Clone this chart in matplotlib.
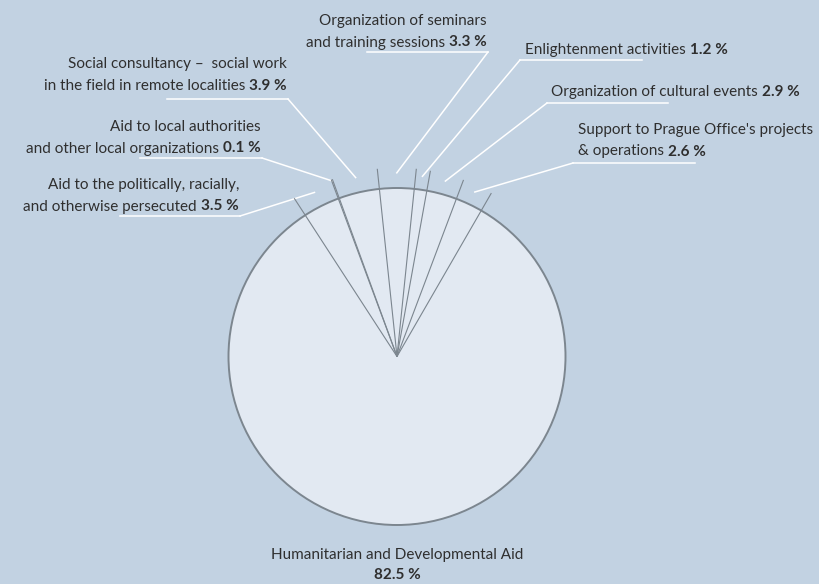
import matplotlib.pyplot as plt
import numpy as np
from matplotlib.patches import Circle

plt.rcParams['font.family'] = ['Lato', 'DejaVu Sans']

# ------------------------------------------------------------
# data (order = clockwise from upper left)
# ------------------------------------------------------------
categories = [
    "Aid to the politically, racially,\nand otherwise persecuted",
    "Aid to local authorities\nand other local organizations",
    "Social consultancy –  social work\nin the field in remote localities",
    "Organization of seminars\nand training sessions",
    "Enlightenment activities",
    "Organization of cultural events",
    "Support to Prague Office's projects\n& operations",
    "Humanitarian and Developmental Aid",
]
shares = [3.5, 0.1, 3.9, 3.3, 1.2, 2.9, 2.6, 82.5]

# ------------------------------------------------------------
# style / layout (pixel coords, y from top)
# ------------------------------------------------------------
W, H = 819, 584
bg = '#c2d2e2'
fill = '#e2e9f2'
edge = '#7c868f'
txt = '#2f2f2f'
fs = 11

cx, cy, R = 397, H - 356.5, 168.5
start = 123

# label anchor: x, y of first line centre, alignment
lab_x = [239, 261, 287, 487, 525, 551, 578]
lab_y = [185, 127, 64, 21, 50, 92, 130]
lab_ha = ['right', 'right', 'right', 'right', 'left', 'left', 'left']
# underline: x0, x1, y ; side that joins the leader
ul = [(120, 240, 216), (140, 262, 158), (167, 288, 99), (367, 488, 52),
      (520, 642, 60), (547, 668, 103), (573, 695, 163)]
lead_r = [1.09, 1.11, 1.09, 1.09, 1.08, 1.08, 1.08]
lh = 21.5

fig = plt.figure(figsize=(W / 100, H / 100), dpi=100, facecolor=bg)
ax = fig.add_axes([0, 0, 1, 1])
ax.set_facecolor(bg)

ax.pie(shares, colors=[fill] * len(shares), startangle=start, counterclock=False,
       center=(cx, cy), radius=R, wedgeprops=dict(linewidth=0))
ax.add_patch(Circle((cx, cy), R, fill=False, ec=edge, lw=1.4, zorder=3))

shares_a = np.array(shares)
bounds = start - np.concatenate([[0], np.cumsum(shares_a)]) * 3.6
mids = bounds[:-1] - shares_a * 1.8

for a in bounds[:-1]:
    t = np.radians(a)
    ax.plot([cx, cx + 1.12 * R * np.cos(t)], [cy, cy + 1.12 * R * np.sin(t)],
            color=edge, lw=0.8, zorder=3, solid_capstyle='butt')


def put_label(x, y, text, pct, ha):
    lines = text.split('\n')
    for j, ln in enumerate(lines[:-1]):
        ax.text(x, H - (y + j * lh), ln, ha=ha, va='center', fontsize=fs, color=txt)
    ylast = H - (y + (len(lines) - 1) * lh)
    if ha == 'right':
        b = ax.text(x, ylast, pct, ha='right', va='center', fontsize=fs,
                    color=txt, weight='bold')
        ax.annotate(lines[-1], xy=(0, 0.5), xycoords=b, xytext=(-3, 0),
                    textcoords='offset points', ha='right', va='center',
                    fontsize=fs, color=txt)
    else:
        n = ax.text(x, ylast, lines[-1], ha='left', va='center', fontsize=fs, color=txt)
        ax.annotate(pct, xy=(1, 0.5), xycoords=n, xytext=(3, 0),
                    textcoords='offset points', ha='left', va='center',
                    fontsize=fs, color=txt, weight='bold')


for i in range(7):
    pct = f"{shares[i]} %"
    put_label(lab_x[i], lab_y[i], categories[i], pct, lab_ha[i])
    x0, x1, yu = ul[i]
    jx = x1 if lab_ha[i] == 'right' else x0
    t = np.radians(mids[i])
    sx, sy = cx + lead_r[i] * R * np.cos(t), cy + lead_r[i] * R * np.sin(t)
    ax.plot([x0, x1], [H - yu, H - yu], color='white', lw=1.1)
    ax.plot([jx, sx], [H - yu, sy], color='white', lw=1.1)

# big slice label under the pie
ax.text(cx, H - 555, categories[7], ha='center', va='center', fontsize=fs, color=txt)
ax.text(cx, H - 575, f"{shares[7]} %", ha='center', va='center', fontsize=fs,
        color=txt, weight='bold')

ax.set_xlim(0, W)
ax.set_ylim(0, H)
ax.set_aspect('equal')
ax.axis('off')

fig.savefig('out.png', dpi=100, facecolor=bg)
